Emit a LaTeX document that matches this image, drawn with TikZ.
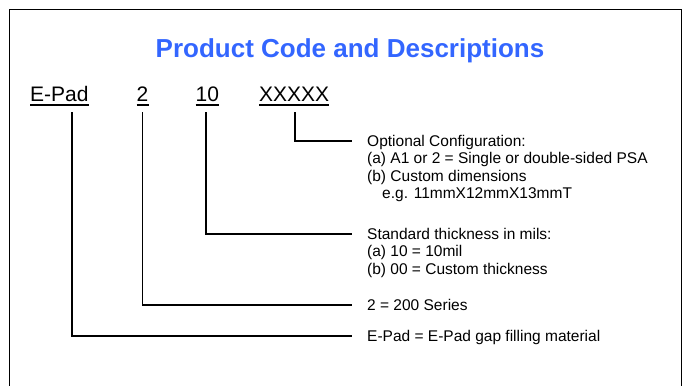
\documentclass[tikz,border=0pt]{standalone}
\usepackage{fontspec}
\setmainfont{Liberation Sans}
\definecolor{titleblue}{RGB}{51,102,255}
\begin{document}
\begin{tikzpicture}[x=1pt,y=-1pt,
  frameline/.style={line width=1.5pt,black},
  titletext/.style={font=\fontsize{26}{30}\selectfont\bfseries,text=titleblue,inner sep=0pt},
  codetext/.style={font=\fontsize{21}{25}\selectfont,inner sep=0pt,anchor=base west},
  desctext/.style={font=\fontsize{15.5}{17.2}\selectfont,align=left,inner sep=0pt,anchor=north west},
  conn/.style={line width=1.6pt,black},
  uline/.style={line width=1.3pt,black}]
\useasboundingbox (0,0) rectangle (684,385);
\fill[white] (0,0) rectangle (684,385);
% frame (open at bottom edge of picture)
\draw[frameline] (9.3,386) -- (9.3,9.3) -- (681.5,9.3) -- (681.5,386);
% title
\node[titletext,anchor=base] (title) at (350,58) {Product Code and Descriptions};
% code parts
\node[codetext] (c1) at (30,102) {E-Pad};
\node[codetext] (c2) at (136.5,102) {2};
\node[codetext] (c3) at (195.5,102) {10};
\node[codetext] (c4) at (259,102) {XXXXX};
\foreach \n in {c1,c2,c3,c4}{
  \draw[uline] ([yshift=-3pt]\n.base west) -- ([yshift=-3pt]\n.base east);
}
% descriptions
\node[desctext] (d4) at (367,135.2) {Optional Configuration:\\(a) A1 or 2 = Single or double-sided PSA\\(b) Custom dimensions\\\hspace*{15pt}e.g. 11mmX12mmX13mmT};
\node[desctext] (d3) at (367,228.2) {Standard thickness in mils:\\(a) 10 = 10mil\\(b) 00 = Custom thickness};
\node[desctext] (d2) at (367,299.2) {2 = 200 Series};
\node[desctext] (d1) at (367,330.2) {E-Pad = E-Pad gap filling material};
% tick start points under the code parts
\coordinate (t1) at (71.7,112);
\coordinate (t2) at (142.3,112);
\coordinate (t3) at (206,112);
\coordinate (t4) at (295,112);
% line ends before each description
\foreach \d in {1,2,3,4}{
  \coordinate (e\d) at ([xshift=-15pt,yshift=-5.8pt]d\d.north west);
}
\draw[conn] (t1) |- (e1);
\draw[conn] (t2) |- (e2);
\draw[conn] (t3) |- (e3);
\draw[conn] (t4) |- (e4);
\end{tikzpicture}
\end{document}
